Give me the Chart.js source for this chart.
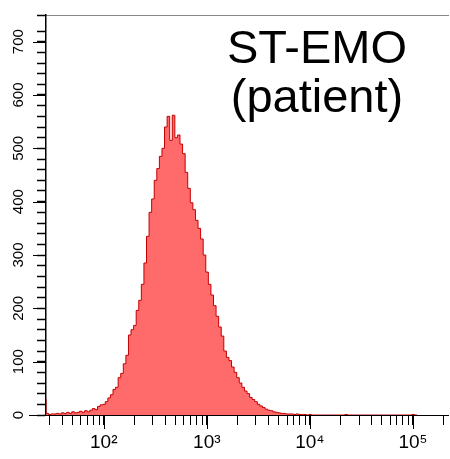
<!DOCTYPE html>
<html>
<head>
<meta charset="utf-8">
<script src="https://cdn.jsdelivr.net/npm/chart.js@4.4.0/dist/chart.umd.min.js"></script>
<style>
  html, body { margin: 0; padding: 0; background: #fff; }
  #wrap { position: relative; width: 450px; height: 459px; }
  #label {
    position: absolute; left: 217px; top: 22px; width: 200px;
    text-align: center; font-family: 'Liberation Sans', Arial, sans-serif;
    font-size: 47px; line-height: 49px; color: #000;
  }
</style>
</head>
<body>
<div id="wrap">
  <canvas id="histChart" width="450" height="459"></canvas>
  <div id="label">ST-EMO<br>(patient)</div>
</div>
<script>
// histogram channels: log10 of the first bin edge and bin width (decades)
const binStartLog = 1.44;
const binWidthLog = 0.025;

// event counts per channel
const counts = [
  30, 3, 1, 2, 2, 3, 2, 4, 3, 5,
  3, 6, 4, 5, 7, 5, 8, 6, 9, 12,
  10, 16, 19, 20, 25, 32, 38, 48, 52, 70,
  78, 96, 112, 150, 160, 168, 196, 215, 245, 285,
  335, 380, 405, 440, 462, 485, 500, 540, 560, 515,
  562, 520, 525, 508, 490, 455, 425, 398, 385, 365,
  350, 330, 300, 268, 245, 225, 205, 185, 165, 148,
  120, 108, 102, 90, 80, 70, 60, 52, 45, 40,
  33, 29, 25, 20, 17, 14, 11, 9, 8, 6,
  5, 4, 3, 3, 2, 2, 2, 1, 2, 1,
  1, 1, 0, 1,
  0, 0, 0, 0, 0, 0, 0, 0, 0, 0, 0, 0, 0,
  1,
  0, 0, 0, 0, 0, 0, 0, 0, 0, 0, 0, 0, 0, 0, 0, 0, 0, 0, 0, 0, 0, 0, 0, 0, 0,
  1, 0
];

// axis ticks
const xTickValues = [
  30, 40, 50, 60, 70, 80, 90,
  100, 200, 300, 400, 500, 600, 700, 800, 900,
  1000, 2000, 3000, 4000, 5000, 6000, 7000, 8000, 9000,
  10000, 20000, 30000, 40000, 50000, 60000, 70000, 80000, 90000,
  100000, 200000
];
const xTickLabels = { 100: '10\u00B2', 1000: '10\u00B3', 10000: '10\u2074', 100000: '10\u2075' };
const yMajorStep = 100;
const yMinorStep = 20;
const yMax = 750;

const xMin = Math.pow(10, 1.44);
const xMax = Math.pow(10, 5.345);

const points = counts.map((c, i) => ({ x: Math.pow(10, binStartLog + i * binWidthLog), y: c }));

const axisFont = "'Liberation Sans Narrow', 'Arial Narrow', 'Liberation Sans', Arial, sans-serif";

// longer tick marks for the labelled (major) ticks
const majorTicks = {
  id: 'majorTicks',
  afterDraw(chart) {
    const ctx = chart.ctx;
    const xs = chart.scales.x, ys = chart.scales.y;
    ctx.save();
    ctx.strokeStyle = '#000';
    ctx.lineWidth = 1;
    ctx.beginPath();
    Object.keys(xTickLabels).forEach(v => {
      const px = Math.round(xs.getPixelForValue(+v)) + 0.5;
      ctx.moveTo(px, xs.top);
      ctx.lineTo(px, xs.top + 14);
    });
    for (let v = 0; v <= yMax; v += yMajorStep) {
      const py = Math.round(ys.getPixelForValue(v)) + 0.5;
      ctx.moveTo(ys.right, py);
      ctx.lineTo(ys.right - (v === 0 ? 17 : 13), py);
    }
    ctx.stroke();
    ctx.restore();
  }
};

new Chart(document.getElementById('histChart'), {
  type: 'line',
  data: {
    datasets: [{
      label: 'ST-EMO (patient)',
      data: points,
      stepped: 'after',
      fill: 'origin',
      backgroundColor: '#ff6b6b',
      borderColor: '#c40000',
      borderWidth: 1,
      pointRadius: 0
    }]
  },
  options: {
    responsive: false,
    animation: false,
    layout: { padding: { top: 5, right: 0, left: 0, bottom: 0 } },
    plugins: {
      legend: { display: false },
      tooltip: { enabled: false }
    },
    scales: {
      x: {
        type: 'logarithmic',
        min: xMin,
        max: xMax,
        afterBuildTicks: s => { s.ticks = xTickValues.map(v => ({ value: v })); },
        afterFit: s => { s.height = 44; },
        ticks: {
          autoSkip: false,
          maxRotation: 0,
          padding: 6,
          color: '#000',
          font: { family: axisFont, size: 19 },
          callback: v => xTickLabels[v] || ''
        },
        grid: { drawOnChartArea: false, tickLength: 10, tickColor: '#000', tickWidth: 1 },
        border: { color: '#000', width: 1 }
      },
      xTop: {
        type: 'logarithmic',
        position: 'top',
        min: xMin,
        max: xMax,
        afterFit: s => { s.height = 0; },
        ticks: { display: false },
        grid: { display: false },
        border: { color: '#888', width: 1 }
      },
      y: {
        min: 0,
        max: yMax,
        afterFit: s => { s.width = 46; },
        ticks: {
          stepSize: yMinorStep,
          autoSkip: false,
          minRotation: 90,
          maxRotation: 90,
          crossAlign: 'center',
          padding: 6,
          color: '#000',
          font: { family: axisFont, size: 15 },
          callback: v => (v % yMajorStep === 0 ? String(v) : '')
        },
        grid: { drawOnChartArea: false, tickLength: 9, tickColor: '#000', tickWidth: 1.5 },
        border: { color: '#000', width: 1.5 }
      }
    }
  },
  plugins: [majorTicks]
});
</script>
</body>
</html>
